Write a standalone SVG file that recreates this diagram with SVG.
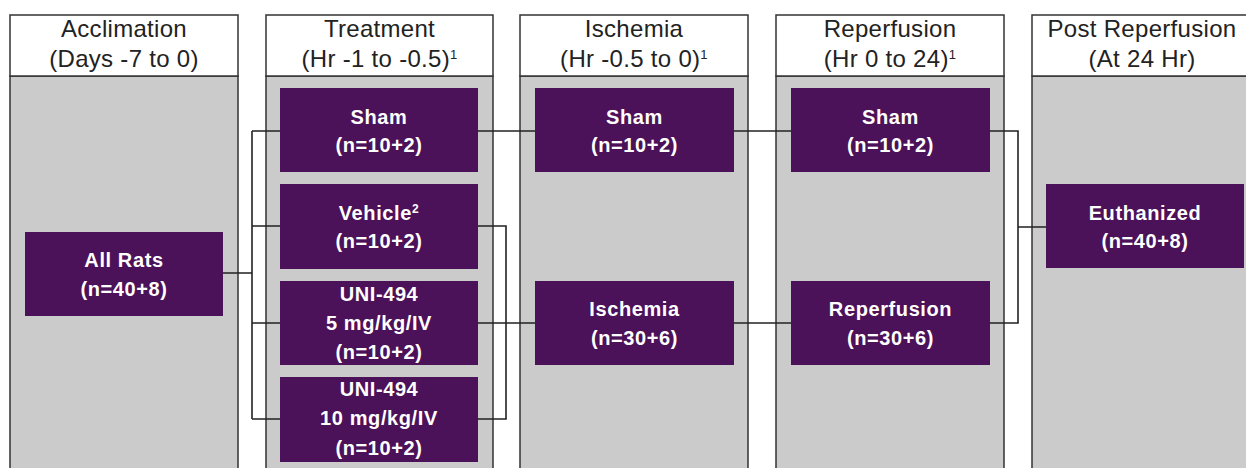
<svg xmlns="http://www.w3.org/2000/svg" width="1246" height="468" viewBox="0 0 1246 468">
<style>
.hdr{fill:#ffffff;stroke:#333333;stroke-width:1.5}
.body{fill:#cbcbcb;stroke:#333333;stroke-width:1.5}
.ht{font-family:"Liberation Sans",Arial,sans-serif;font-size:24px;fill:#222222;text-anchor:middle;letter-spacing:0.3px}
.sup{font-size:13px}
.node{fill:#4b1159}
.nt{font-family:"Liberation Sans",Arial,sans-serif;font-size:20px;font-weight:bold;fill:#ffffff;text-anchor:middle;letter-spacing:0.6px}
.nsup{font-size:12px}
.conn{fill:none;stroke:#222222;stroke-width:1.6}
</style>
<rect width="1246" height="468" fill="#ffffff"/>
<g id="phases">
<g id="col-acclimation">
<rect class="body" x="10" y="76" width="228" height="400"/>
<rect class="hdr" x="10" y="15" width="228" height="61"/>
<text class="ht" x="124" y="37">Acclimation</text>
<text class="ht" x="124" y="67">(Days -7 to 0)</text>
</g>
<g id="col-treatment">
<rect class="body" x="266" y="76" width="227" height="400"/>
<rect class="hdr" x="266" y="15" width="227" height="61"/>
<text class="ht" x="379.5" y="37">Treatment</text>
<text class="ht" x="379.5" y="67">(Hr -1 to -0.5)<tspan class="sup" dy="-8">1</tspan></text>
</g>
<g id="col-ischemia">
<rect class="body" x="520" y="76" width="228" height="400"/>
<rect class="hdr" x="520" y="15" width="228" height="61"/>
<text class="ht" x="634" y="37">Ischemia</text>
<text class="ht" x="634" y="67">(Hr -0.5 to 0)<tspan class="sup" dy="-8">1</tspan></text>
</g>
<g id="col-reperfusion">
<rect class="body" x="776" y="76" width="228" height="400"/>
<rect class="hdr" x="776" y="15" width="228" height="61"/>
<text class="ht" x="890" y="37">Reperfusion</text>
<text class="ht" x="890" y="67">(Hr 0 to 24)<tspan class="sup" dy="-8">1</tspan></text>
</g>
<g id="col-post">
<rect class="body" x="1032" y="76" width="240" height="400"/>
<rect class="hdr" x="1032" y="15" width="240" height="61"/>
<text class="ht" x="1142" y="37">Post Reperfusion</text>
<text class="ht" x="1142" y="67">(At 24 Hr)</text>
</g>
</g>
<g id="connectors">
<path class="conn" d="M223,273 H252 M252,131 V419 M252,131 H280 M252,226 H280 M252,323 H280 M252,419 H280"/>
<path class="conn" d="M478,131 H535"/>
<path class="conn" d="M478,226 H506 V419 H478 M478,323 H535"/>
<path class="conn" d="M734,131 H791"/>
<path class="conn" d="M734,323 H791"/>
<path class="conn" d="M990,131 H1018 V323 H990 M1018,227 H1046"/>
</g>
<g id="node-allrats">
<rect class="node" x="25" y="232" width="198" height="84"/>
<text class="nt" x="124" y="267">All Rats</text>
<text class="nt" x="124" y="296">(n=40+8)</text>
</g>
<g id="node-t-sham">
<rect class="node" x="280" y="88" width="198" height="84"/>
<text class="nt" x="379" y="124">Sham</text>
<text class="nt" x="379" y="152">(n=10+2)</text>
</g>
<g id="node-t-vehicle">
<rect class="node" x="280" y="184" width="198" height="85"/>
<text class="nt" x="379" y="220">Vehicle<tspan class="nsup" dy="-7">2</tspan></text>
<text class="nt" x="379" y="248">(n=10+2)</text>
</g>
<g id="node-t-uni5">
<rect class="node" x="280" y="281" width="198" height="84"/>
<text class="nt" x="379" y="301">UNI-494</text>
<text class="nt" x="379" y="330">5 mg/kg/IV</text>
<text class="nt" x="379" y="359">(n=10+2)</text>
</g>
<g id="node-t-uni10">
<rect class="node" x="280" y="377" width="198" height="85"/>
<text class="nt" x="379" y="396">UNI-494</text>
<text class="nt" x="379" y="425">10 mg/kg/IV</text>
<text class="nt" x="379" y="455">(n=10+2)</text>
</g>
<g id="node-i-sham">
<rect class="node" x="535" y="88" width="199" height="84"/>
<text class="nt" x="634.5" y="124">Sham</text>
<text class="nt" x="634.5" y="152">(n=10+2)</text>
</g>
<g id="node-i-ischemia">
<rect class="node" x="535" y="281" width="199" height="84"/>
<text class="nt" x="634.5" y="316">Ischemia</text>
<text class="nt" x="634.5" y="345">(n=30+6)</text>
</g>
<g id="node-r-sham">
<rect class="node" x="791" y="88" width="199" height="84"/>
<text class="nt" x="890.5" y="124">Sham</text>
<text class="nt" x="890.5" y="152">(n=10+2)</text>
</g>
<g id="node-r-reperfusion">
<rect class="node" x="791" y="281" width="199" height="84"/>
<text class="nt" x="890.5" y="316">Reperfusion</text>
<text class="nt" x="890.5" y="345">(n=30+6)</text>
</g>
<g id="node-euthanized">
<rect class="node" x="1046" y="184" width="198" height="84"/>
<text class="nt" x="1145" y="220">Euthanized</text>
<text class="nt" x="1145" y="248">(n=40+8)</text>
</g>
</svg>
